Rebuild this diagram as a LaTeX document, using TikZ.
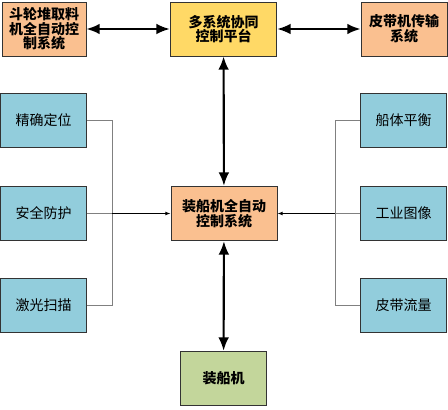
\documentclass[tikz,border=0pt]{standalone}
\usepackage{fontspec}
\setmainfont{Noto Sans CJK SC}
\usetikzlibrary{arrows.meta}
\definecolor{peach}{RGB}{250,192,144}
\definecolor{gold}{RGB}{255,217,102}
\definecolor{sky}{RGB}{146,205,220}
\definecolor{sage}{RGB}{195,214,155}
\definecolor{wire}{RGB}{128,128,128}

\begin{document}
\begin{tikzpicture}[x=0.75pt, y=-0.75pt,
    box/.style={draw=black!80, line width=0.6pt, align=center, inner sep=0pt,
        font=\fontsize{10.5}{11}\selectfont},
    main/.style={box, font=\fontsize{10.5}{11}\selectfont\bfseries},
    link/.style={line width=1.6pt, {Latex[length=10pt,width=8pt]}-{Latex[length=10pt,width=8pt]}},
    feed/.style={draw=wire, line width=0.6pt}]

    \useasboundingbox (0,0) rectangle (448,409);

    \node[main, fill=peach, minimum width=63pt, minimum height=40.5pt] (dlq) at (44,29) {斗轮堆取料\\机全自动控\\制系统};
    \node[main, fill=gold, minimum width=80pt, minimum height=40.5pt] (ptf) at (223.5,29) {多系统协同\\控制平台};
    \node[main, fill=peach, minimum width=64.5pt, minimum height=40.5pt] (pdj) at (404,29) {皮带机传输\\系统};

    \node[box, fill=sky, minimum width=64pt, minimum height=41pt] (jq) at (43.5,120.5) {精确定位};
    \node[box, fill=sky, minimum width=64pt, minimum height=41pt] (aq) at (43.5,213.5) {安全防护};
    \node[box, fill=sky, minimum width=64pt, minimum height=41pt] (jg) at (43.5,305.5) {激光扫描};

    \node[box, fill=sky, minimum width=64pt, minimum height=41pt] (ct) at (403.5,120.5) {船体平衡};
    \node[box, fill=sky, minimum width=64pt, minimum height=41pt] (gy) at (403.5,213.5) {工业图像};
    \node[box, fill=sky, minimum width=64pt, minimum height=41pt] (pd) at (403.5,305.5) {皮带流量};

    \node[main, fill=peach, minimum width=79.5pt, minimum height=41pt] (zc) at (224,213.5) {装船机全自动\\控制系统};
    \node[main, fill=sage, minimum width=64pt, minimum height=41pt] (zcj) at (223.5,378.5) {装船机};

    \coordinate (lbus) at (112,213.5);
    \coordinate (rbus) at (335,213.5);

    \draw[link] (dlq) -- (ptf);
    \draw[link] (ptf) -- (pdj);
    \draw[link] (ptf) -- (zc);
    \draw[link] (zc) -- (zcj);

    \draw[feed] (jq.east) -| (lbus);
    \draw[feed] (jg.east) -| (lbus);
    \draw[feed] (aq.east) -- (lbus);
    \draw[line width=0.8pt, -{Latex[length=4pt,width=3pt]}] (lbus) -- (zc.west);

    \draw[feed] (ct.west) -| (rbus);
    \draw[feed] (pd.west) -| (rbus);
    \draw[feed] (gy.west) -- (rbus);
    \draw[line width=0.8pt, -{Latex[length=4pt,width=3pt]}] (rbus) -- (zc.east);

\end{tikzpicture}
\end{document}
